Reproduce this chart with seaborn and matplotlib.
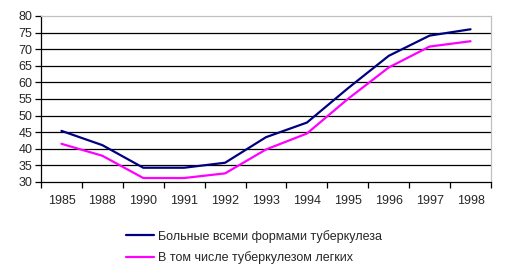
import matplotlib
matplotlib.use("Agg")
import matplotlib.pyplot as plt
import seaborn as sns
import numpy as np
import pandas as pd

years = ["1985", "1988", "1990", "1991", "1992", "1993", "1994", "1995", "1996", "1997", "1998"]
all_forms = [45.4, 41.1, 34.3, 34.3, 35.8, 43.5, 47.9, 58.2, 68.0, 74.1, 76.0]
lungs = [41.5, 37.9, 31.2, 31.2, 32.6, 39.8, 44.6, 55.0, 64.5, 70.8, 72.4]
series_names = ["Больные всеми формами туберкулеза", "В том числе туберкулезом легких"]
yticks = [30, 35, 40, 45, 50, 55, 60, 65, 70, 75, 80]

sns.set_style("white")
plt.rcParams['font.family'] = ['Liberation Sans', 'DejaVu Sans']

pos = np.arange(len(years))
df = pd.DataFrame({
    "pos": np.concatenate([pos, pos]),
    "value": all_forms + lungs,
    "series": [series_names[0]] * len(years) + [series_names[1]] * len(years),
})

fig = plt.figure(figsize=(5.05, 2.72), dpi=100)
ax = fig.add_axes([41/505, 1-182/272, 450/505, 166/272])

sns.lineplot(data=df, x="pos", y="value", hue="series",
             palette={series_names[0]: "#000080", series_names[1]: "#FF00FF"},
             linewidth=1.6, ax=ax, legend=True)

ax.set_xlim(-0.5, len(years) - 0.5)
ax.set_ylim(30, 80)
ax.set_yticks(yticks)
ax.set_yticklabels([str(v) for v in yticks], fontsize=9)
for v in yticks[1:-1]:
    ax.axhline(v, color="black", linewidth=0.9, zorder=0)

ax.set_xticks(np.arange(len(years) + 1) - 0.5)
ax.set_xticklabels([])
ax.set_xticks(pos, minor=True)
ax.set_xticklabels(years, minor=True, fontsize=9)
ax.tick_params(axis="x", which="major", direction="out", length=4, width=0.9, color="black", bottom=True)
ax.tick_params(axis="x", which="minor", length=0, pad=9, bottom=True)
ax.tick_params(axis="y", direction="out", length=4, width=0.9, color="black", left=True, pad=2)
ax.set_xlabel("")
ax.set_ylabel("")

for s in ["left", "bottom"]:
    ax.spines[s].set_color("black")
    ax.spines[s].set_linewidth(0.9)
for s in ["top", "right"]:
    ax.spines[s].set_color("#C0C0C0")
    ax.spines[s].set_linewidth(0.9)

handles, labels = ax.get_legend_handles_labels()
ax.get_legend().remove()
fig.legend(handles, labels, loc="center", bbox_to_anchor=(0.503, 0.092),
           frameon=False, fontsize=9, handlelength=2.2, handletextpad=0.3,
           labelspacing=0.7)

fig.savefig("out.png", dpi=100)
